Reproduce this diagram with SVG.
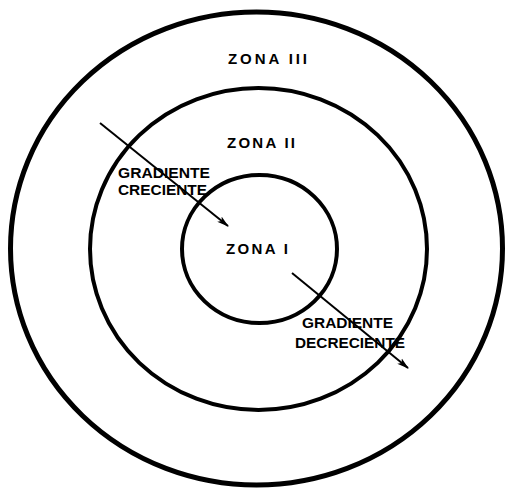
<svg xmlns="http://www.w3.org/2000/svg" width="507" height="489" viewBox="0 0 507 489">
<defs>
<style>
.ring{fill:none;stroke:#000;}
.lbl{font-family:"Liberation Sans",Arial,sans-serif;font-weight:bold;font-size:14px;fill:#000;}
.zn{font-size:15px;}
.arr{stroke:#000;stroke-width:2;fill:none;marker-end:url(#ah);}
</style>
<marker id="ah" viewBox="0 0 12 8" refX="11" refY="4" markerWidth="12" markerHeight="8" markerUnits="userSpaceOnUse" orient="auto">
<path d="M0,0.5 L12,4 L0,7.5 L3,4 Z" fill="#000"/>
</marker>
</defs>
<rect width="507" height="489" fill="#fff"/>
<g id="zona3">
<ellipse class="ring" cx="256.5" cy="248.5" rx="246" ry="236.5" stroke-width="5"/>
<text class="lbl zn" x="228" y="64" textLength="79" lengthAdjust="spacing">ZONA III</text>
</g>
<g id="zona2">
<ellipse class="ring" cx="258.5" cy="249" rx="168.5" ry="161" stroke-width="4"/>
<text class="lbl zn" x="227" y="148" textLength="68" lengthAdjust="spacing">ZONA II</text>
</g>
<g id="zona1">
<ellipse class="ring" cx="259.5" cy="249" rx="77.5" ry="74" stroke-width="4"/>
<text class="lbl zn" x="226" y="254" textLength="62" lengthAdjust="spacing">ZONA  I</text>
</g>
<g id="connectors">
<line class="arr" x1="100" y1="123" x2="228" y2="226"/>
<line class="arr" x1="292" y1="273" x2="408" y2="368"/>
</g>
<g id="labels">
<text class="lbl" x="118" y="178" textLength="92" lengthAdjust="spacingAndGlyphs">GRADIENTE</text>
<text class="lbl" x="118" y="195" textLength="89" lengthAdjust="spacingAndGlyphs">CRECIENTE</text>
<text class="lbl" x="302" y="328" textLength="91" lengthAdjust="spacingAndGlyphs">GRADIENTE</text>
<text class="lbl" x="295" y="348" textLength="110" lengthAdjust="spacingAndGlyphs">DECRECIENTE</text>
</g>
</svg>
